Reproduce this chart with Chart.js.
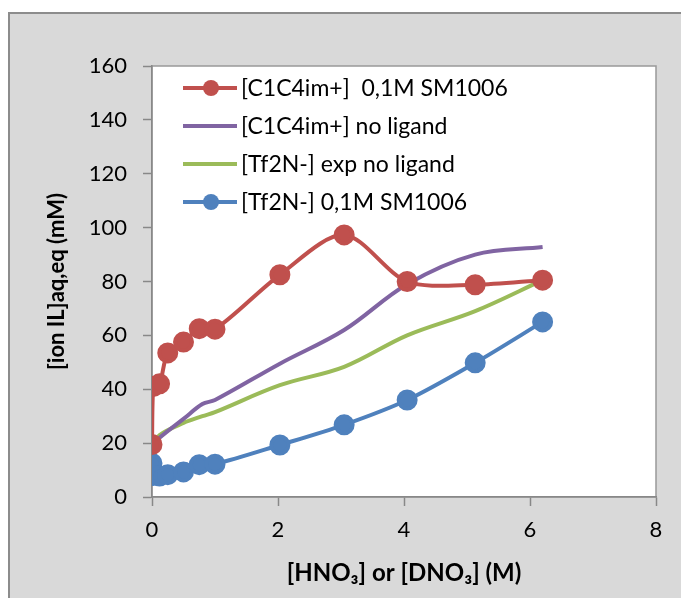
<!DOCTYPE html>
<html>
<head>
<meta charset="utf-8">
<script src="https://cdn.jsdelivr.net/npm/chart.js@4"></script>
<style>
  html, body { margin: 0; padding: 0; background: #fff; }
  #wrap { width: 681px; height: 598px; }
</style>
</head>
<body>
<div id="wrap"><canvas id="ionChart" width="681" height="598"></canvas></div>
<script>
// values
const xLigand = [0, 0.02, 0.12, 0.25, 0.5, 0.75, 1, 2.03, 3.05, 4.05, 5.13, 6.2];
const catLigand = [19.5, 41, 42, 53.5, 57.5, 62.5, 62.3, 82.5, 97.3, 80, 78.8, 80.5];
const anLigand = [12.5, 8, 7.8, 8.3, 9.3, 12, 12.2, 19.3, 26.8, 36, 49.8, 65];

const xNoLigand = [0, 0.12, 0.5, 0.8, 1, 2.03, 3.05, 4.05, 5.13, 6.2];
const catNoLigand = [19, 22, 29, 34.5, 36, 49.5, 62, 79, 90, 92.8];
const anNoLigand = [19, 23, 27.5, 30, 31.5, 41.5, 48.3, 60, 69, 80.5];

const labels = ['[C1C4im+]  0,1M SM1006', '[C1C4im+] no ligand', '[Tf2N-] exp no ligand', '[Tf2N-] 0,1M SM1006'];
const xTicks = [0, 2, 4, 6, 8];
const yTicks = [0, 20, 40, 60, 80, 100, 120, 140, 160];

const RED = '#C0504D', PURPLE = '#8064A2', GREEN = '#9BBB59', BLUE = '#4F81BD';
const FONT = 'Lato, "Open Sans", sans-serif';

function pts(xs, ys) {
    return xs.map((x, i) => ({ x: x, y: ys[i] }));
}

// grey panel behind the chart, white plot area with a thin frame
const panel = {
    id: 'panel',
    beforeDraw(chart) {
        const ctx = chart.ctx;
        const a = chart.chartArea;
        ctx.save();
        ctx.fillStyle = '#d9d9d9';
        ctx.fillRect(9, 13, 700, 600);
        ctx.strokeStyle = '#8c8c8c';
        ctx.lineWidth = 2;
        ctx.strokeRect(9, 13, 700, 600);
        ctx.fillStyle = '#fff';
        ctx.fillRect(a.left, a.top, a.right - a.left, a.bottom - a.top);
        ctx.strokeStyle = '#999';
        ctx.lineWidth = 1.5;
        ctx.strokeRect(a.left, a.top, a.right - a.left, a.bottom - a.top);
        ctx.restore();
    }
};

// legend drawn inside the plot area like the original
const boxLegend = {
    id: 'boxLegend',
    afterDraw(chart) {
        const ctx = chart.ctx;
        ctx.save();
        ctx.font = '23px ' + FONT;
        ctx.textBaseline = 'middle';
        chart.data.datasets.forEach((ds, i) => {
            const y = 88 + i * 38;
            ctx.strokeStyle = ds.borderColor;
            ctx.lineWidth = 4;
            ctx.beginPath();
            ctx.moveTo(183, y);
            ctx.lineTo(237, y);
            ctx.stroke();
            if (ds.pointRadius > 0) {
                ctx.fillStyle = ds.borderColor;
                ctx.beginPath();
                ctx.arc(211, y, 8, 0, Math.PI * 2);
                ctx.fill();
            }
            ctx.fillStyle = '#000';
            ctx.fillText(labels[i], 241, y + 1);
        });
        ctx.restore();
    }
};

const ctx = document.getElementById('ionChart').getContext('2d');
new Chart(ctx, {
    type: 'scatter',
    data: {
        datasets: [{
            label: labels[0],
            data: pts(xLigand, catLigand),
            borderColor: RED,
            backgroundColor: RED,
            pointRadius: 8.5,
            borderWidth: 4,
            tension: 0.3
        }, {
            label: labels[1],
            data: pts(xNoLigand, catNoLigand),
            borderColor: PURPLE,
            backgroundColor: PURPLE,
            pointRadius: 0,
            borderWidth: 4,
            tension: 0.35
        }, {
            label: labels[2],
            data: pts(xNoLigand, anNoLigand),
            borderColor: GREEN,
            backgroundColor: GREEN,
            pointRadius: 0,
            borderWidth: 4,
            tension: 0.35
        }, {
            label: labels[3],
            data: pts(xLigand, anLigand),
            borderColor: BLUE,
            backgroundColor: BLUE,
            pointRadius: 8.5,
            borderWidth: 4,
            tension: 0.3
        }]
    },
    options: {
        responsive: false,
        animation: false,
        showLine: true,
        layout: { padding: { left: 44, top: 66, right: 25, bottom: 10 } },
        plugins: {
            legend: { display: false },
            tooltip: { enabled: false }
        },
        scales: {
            x: {
                type: 'linear',
                min: 0,
                max: 8,
                afterBuildTicks: s => { s.ticks = xTicks.map(v => ({ value: v })); },
                afterFit: s => { s.height = 91; },
                grid: { drawOnChartArea: false, tickLength: 9, color: '#888', tickWidth: 1.5 },
                border: { color: '#888', width: 1.5 },
                ticks: { color: '#000', padding: 11, font: { family: FONT, size: 22 } },
                title: {
                    display: true,
                    text: '[HNO₃] or [DNO₃] (M)',
                    color: '#000',
                    padding: 0,
                    font: { family: FONT, size: 24, weight: 'bold' }
                }
            },
            y: {
                min: 0,
                max: 160,
                afterBuildTicks: s => { s.ticks = yTicks.map(v => ({ value: v })); },
                afterFit: s => { s.width = 108; },
                grid: { drawOnChartArea: false, tickLength: 9, color: '#888', tickWidth: 1.5 },
                border: { color: '#888', width: 1.5 },
                ticks: { color: '#000', padding: 16, font: { family: FONT, size: 22 } },
                title: {
                    display: true,
                    text: '[ion IL]aq,eq (mM)',
                    color: '#000',
                    padding: 0,
                    font: { family: FONT, size: 22, weight: 'bold' }
                }
            }
        }
    },
    plugins: [panel, boxLegend]
});
</script>
</body>
</html>
